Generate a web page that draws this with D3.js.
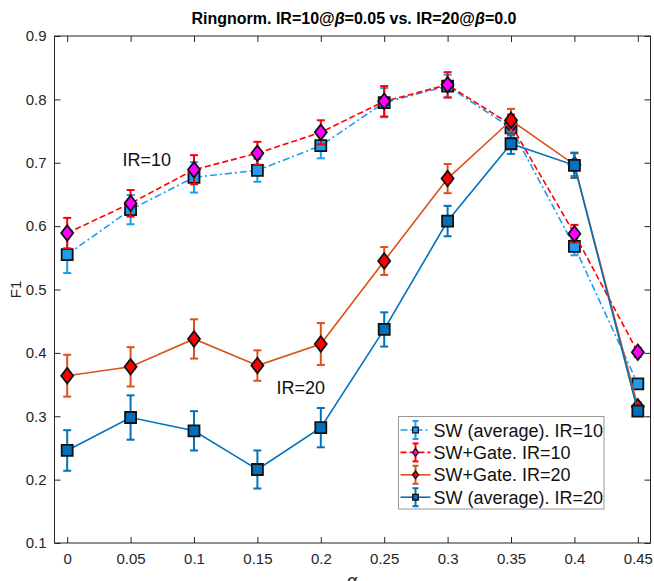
<!DOCTYPE html>
<html>
<head>
<meta charset="utf-8">
<script src="https://cdn.jsdelivr.net/npm/d3@7"></script>
<style>
  body { margin: 0; background: #fff; }
  svg { font-family: "Liberation Sans", Arial, Helvetica, sans-serif; }
</style>
</head>
<body>
<svg id="chart" width="654" height="581"></svg>
<script>
// x values and tick labels
let alpha = [0, 0.05, 0.1, 0.15, 0.2, 0.25, 0.3, 0.35, 0.4, 0.45];
let xTicks = [0, 0.05, 0.1, 0.15, 0.2, 0.25, 0.3, 0.35, 0.4, 0.45];
let yTicks = [0.1, 0.2, 0.3, 0.4, 0.5, 0.6, 0.7, 0.8, 0.9];

// series values (F1) and half error bar widths
let swAvg10 = [0.555, 0.626, 0.677, 0.688, 0.727, 0.795, 0.821, 0.755, 0.568, 0.351];
let swAvg10Err = [0.029, 0.023, 0.024, 0.018, 0.020, 0.023, 0.018, 0.015, 0.014, 0.006];
let swGate10 = [0.589, 0.636, 0.689, 0.715, 0.748, 0.797, 0.823, 0.760, 0.588, 0.401];
let swGate10Err = [0.024, 0.021, 0.023, 0.018, 0.019, 0.024, 0.020, 0.016, 0.014, 0.007];
let swGate20 = [0.364, 0.378, 0.422, 0.380, 0.414, 0.545, 0.675, 0.767, 0.697, 0.315];
let swGate20Err = [0.033, 0.031, 0.031, 0.024, 0.033, 0.022, 0.023, 0.018, 0.018, 0.007];
let swAvg20 = [0.246, 0.298, 0.277, 0.216, 0.282, 0.437, 0.608, 0.730, 0.696, 0.308];
let swAvg20Err = [0.032, 0.035, 0.031, 0.030, 0.031, 0.027, 0.024, 0.016, 0.020, 0.007];

let seriesNames = ['SW (average). IR=10', 'SW+Gate. IR=10', 'SW+Gate. IR=20', 'SW (average). IR=20'];

// styles per series
let series = [
  {name: seriesNames[0], y: swAvg10, e: swAvg10Err, color: '#1e9cf0', fill: '#1e9cf0', dash: '7,3,2,3', marker: 'square'},
  {name: seriesNames[1], y: swGate10, e: swGate10Err, color: '#ff0000', fill: '#ff00ff', dash: '6,3', marker: 'diamond'},
  {name: seriesNames[2], y: swGate20, e: swGate20Err, color: '#d95319', fill: '#ff0000', dash: null, marker: 'diamond'},
  {name: seriesNames[3], y: swAvg20, e: swAvg20Err, color: '#0072bd', fill: '#0072bd', dash: null, marker: 'square'}
];

let margin = {left: 54.5, right: 3.5, top: 36, bottom: 38};
let W = 654, H = 581;
let svg = d3.select('#chart');

let x = d3.scaleLinear().domain([-0.01, 0.46]).range([margin.left, W - margin.right]);
let y = d3.scaleLinear().domain([0.1, 0.9]).range([H - margin.bottom, margin.top]);

let axisColor = '#262626';
let tickLen = 6;

// axes box with inward ticks
let g = svg.append('g');
g.append('g').attr('transform', `translate(0,${y(0.1)})`)
  .call(d3.axisBottom(x).tickValues(xTicks).tickSize(-tickLen).tickPadding(10).tickFormat(d3.format('')))
  .call(a => a.select('.domain').remove())
  .call(a => a.selectAll('text').attr('font-size', 15).attr('fill', axisColor).attr('font-family', 'Liberation Sans, Arial'))
  .call(a => a.selectAll('line').attr('stroke', axisColor));
g.append('g').attr('transform', `translate(0,${y(0.9)})`)
  .call(d3.axisTop(x).tickValues(xTicks).tickSize(-tickLen).tickFormat(''))
  .call(a => a.select('.domain').remove())
  .call(a => a.selectAll('line').attr('stroke', axisColor));
g.append('g').attr('transform', `translate(${x(-0.01)},0)`)
  .call(d3.axisLeft(y).tickValues(yTicks).tickSize(-tickLen).tickPadding(8).tickFormat(d3.format('.1f')))
  .call(a => a.select('.domain').remove())
  .call(a => a.selectAll('text').attr('font-size', 15).attr('fill', axisColor).attr('font-family', 'Liberation Sans, Arial'))
  .call(a => a.selectAll('line').attr('stroke', axisColor));
g.append('g').attr('transform', `translate(${x(0.46)},0)`)
  .call(d3.axisRight(y).tickValues(yTicks).tickSize(-tickLen).tickFormat(''))
  .call(a => a.select('.domain').remove())
  .call(a => a.selectAll('line').attr('stroke', axisColor));
g.append('rect')
  .attr('x', x(-0.01)).attr('y', y(0.9))
  .attr('width', x(0.46) - x(-0.01)).attr('height', y(0.1) - y(0.9))
  .attr('fill', 'none').attr('stroke', axisColor).attr('stroke-width', 1);

// series
let line = d3.line().x((d, i) => x(alpha[i])).y(d => y(d));
let capW = 4;

function markerPath(type, s) {
  if (type === 'square') return `M${-s},${-s}H${s}V${s}H${-s}Z`;
  return `M0,${-s * 1.3}L${s},0L0,${s * 1.3}L${-s},0Z`;
}

series.forEach(s => {
  let sg = svg.append('g');
  sg.append('path').datum(s.y)
    .attr('d', line)
    .attr('fill', 'none')
    .attr('stroke', s.color)
    .attr('stroke-width', 1.6)
    .attr('stroke-dasharray', s.dash);
  let eb = sg.selectAll('.eb').data(s.y).enter().append('g');
  eb.append('line')
    .attr('x1', (d, i) => x(alpha[i])).attr('x2', (d, i) => x(alpha[i]))
    .attr('y1', (d, i) => y(d - s.e[i])).attr('y2', (d, i) => y(d + s.e[i]))
    .attr('stroke', s.color).attr('stroke-width', 2);
  [-1, 1].forEach(sign => {
    eb.append('line')
      .attr('x1', (d, i) => x(alpha[i]) - capW).attr('x2', (d, i) => x(alpha[i]) + capW)
      .attr('y1', (d, i) => y(d + sign * s.e[i])).attr('y2', (d, i) => y(d + sign * s.e[i]))
      .attr('stroke', s.color).attr('stroke-width', 2);
  });
  sg.selectAll('.mk').data(s.y).enter().append('path')
    .attr('transform', (d, i) => `translate(${x(alpha[i])},${y(d)})`)
    .attr('d', markerPath(s.marker, s.marker === 'square' ? 5.5 : 6))
    .attr('fill', s.fill)
    .attr('stroke', '#111')
    .attr('stroke-width', 1.8);
});

// annotations
svg.append('text').attr('x', 122.5).attr('y', 165.5).attr('font-size', 18).attr('fill', '#111').text('IR=10');
svg.append('text').attr('x', 276.5).attr('y', 393.5).attr('font-size', 18).attr('fill', '#111').text('IR=20');

// title
let title = svg.append('text').attr('x', 354).attr('y', 24).attr('text-anchor', 'middle')
  .attr('font-size', 16).attr('font-weight', 'bold').attr('fill', '#000');
title.append('tspan').text('Ringnorm. IR=10@');
title.append('tspan').attr('font-style', 'italic').text('β');
title.append('tspan').text('=0.05 vs. IR=20@');
title.append('tspan').attr('font-style', 'italic').text('β');
title.append('tspan').text('=0.0');

// axis labels
svg.append('text').attr('transform', `translate(21,${y(0.5)}) rotate(-90)`)
  .attr('text-anchor', 'middle').attr('font-size', 15).attr('fill', axisColor).text('F1');
svg.append('text').attr('x', 352).attr('y', 587).attr('text-anchor', 'middle')
  .attr('font-size', 18).attr('font-style', 'italic').attr('fill', axisColor).text('α');

// legend
let lg = svg.append('g').attr('transform', 'translate(398.5,416.5)');
lg.append('rect').attr('width', 205.5).attr('height', 92.5)
  .attr('fill', '#fff').attr('stroke', '#999').attr('stroke-width', 1);
series.forEach((s, i) => {
  let ry = 13.5 + i * 22.4;
  let row = lg.append('g').attr('transform', `translate(0,${ry})`);
  row.append('line').attr('x1', 2).attr('x2', 32).attr('y1', 0).attr('y2', 0)
    .attr('stroke', s.color).attr('stroke-width', 1.6).attr('stroke-dasharray', s.dash);
  row.append('line').attr('x1', 17).attr('x2', 17).attr('y1', -9).attr('y2', 9)
    .attr('stroke', s.color).attr('stroke-width', 2);
  [-9, 9].forEach(v => row.append('line').attr('x1', 14).attr('x2', 20).attr('y1', v).attr('y2', v)
    .attr('stroke', s.color).attr('stroke-width', 2));
  row.append('path').attr('transform', 'translate(17,0)')
    .attr('d', markerPath(s.marker, s.marker === 'square' ? 2.8 : 3))
    .attr('fill', s.fill).attr('stroke', '#111').attr('stroke-width', 1.3);
  row.append('text').attr('x', 35).attr('y', 6.5).attr('font-size', 18).attr('fill', '#111').text(s.name);
});
</script>
</body>
</html>
